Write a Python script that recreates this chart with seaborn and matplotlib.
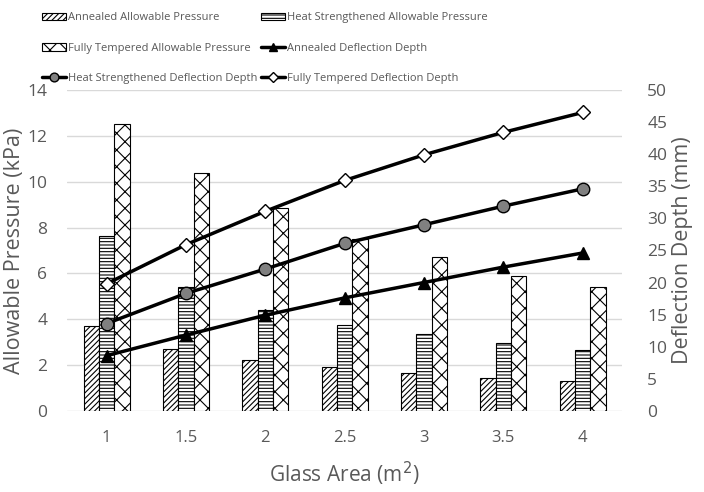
import numpy as np
import pandas as pd
import matplotlib
matplotlib.use("Agg")
import matplotlib.pyplot as plt
import seaborn as sns

# ===== data =====
areas = ["1", "1.5", "2", "2.5", "3", "3.5", "4"]

annealed_pressure = [3.7, 2.7, 2.2, 1.9, 1.65, 1.45, 1.3]
heat_pressure = [7.65, 5.4, 4.4, 3.75, 3.35, 2.95, 2.65]
tempered_pressure = [12.5, 10.4, 8.85, 7.5, 6.7, 5.9, 5.4]

annealed_deflection = [8.6, 11.8, 14.9, 17.6, 20.0, 22.4, 24.6]
heat_deflection = [13.6, 18.3, 22.1, 26.1, 29.0, 31.9, 34.6]
tempered_deflection = [19.8, 25.9, 31.1, 35.9, 39.9, 43.4, 46.5]

bar_names = ["Annealed Allowable Pressure", "Heat Strengthened Allowable Pressure",
             "Fully Tempered Allowable Pressure"]
line_names = ["Annealed Deflection Depth", "Heat Strengthened Deflection Depth",
              "Fully Tempered Deflection Depth"]

# ===== long form table for the bars =====
bars = pd.DataFrame({
    "area": areas * 3,
    "pressure": annealed_pressure + heat_pressure + tempered_pressure,
    "series": [n for n in bar_names for _ in areas],
})

sns.set_theme(style="white")
plt.rcParams["font.family"] = ["Open Sans", "DejaVu Sans"]
plt.rcParams["hatch.linewidth"] = 0.8
text_grey = "#595959"

fig = plt.figure(figsize=(7.04, 4.92), dpi=100)
ax = fig.add_axes([0.095, 0.165, 0.789, 0.652])

sns.barplot(data=bars, x="area", y="pressure", hue="series", order=areas,
            hue_order=bar_names, width=0.58, gap=0.0, ax=ax,
            palette=["white"] * 3, edgecolor="black", linewidth=0.8,
            legend=False)

hatches = ["//////", "-----", "xx"]
for container, h in zip(ax.containers, hatches):
    for patch in container:
        patch.set_hatch(h)

ax.set_ylim(0, 14)
ax.set_yticks(range(0, 15, 2))
ax.grid(axis="y", color="#d9d9d9", lw=1)
ax.set_axisbelow(True)
ax.set_xlabel("Glass Area (m$^2$)", fontsize=15, color=text_grey, labelpad=10)
ax.set_ylabel("Allowable Pressure (kPa)", fontsize=15.5, color=text_grey, labelpad=2)
ax.tick_params(axis="x", labelsize=12, colors=text_grey, length=0, pad=14)
ax.tick_params(axis="y", labelsize=12.5, colors=text_grey, length=0, pad=14)
for s in ax.spines.values():
    s.set_visible(False)

# ===== deflection lines on second axis =====
ax2 = ax.twinx()
styles = [("^", "black"), ("o", "#808080"), ("D", "white")]
positions = np.arange(len(areas))
for vals, name, (mk, fc) in zip([annealed_deflection, heat_deflection, tempered_deflection],
                                line_names, styles):
    sns.lineplot(x=positions, y=vals, ax=ax2, color="black", lw=2.5,
                 marker=mk, markersize=9 if mk != "D" else 7,
                 markerfacecolor=fc, markeredgecolor="black", markeredgewidth=1,
                 label=name, legend=False)

ax2.set_ylim(0, 50)
ax2.set_yticks(range(0, 51, 5))
ax2.set_ylabel("Deflection Depth (mm)", fontsize=15.5, color=text_grey, labelpad=3)
ax2.tick_params(axis="y", labelsize=12.5, colors=text_grey, length=0, pad=18)
ax2.grid(False)
for s in ax2.spines.values():
    s.set_visible(False)
ax.set_xlim(-0.5, len(areas) - 0.5)

# ===== legend (row-major like the original) =====
bar_handles = [c.patches[0] for c in ax.containers]
line_handles = ax2.get_lines()
col1 = [bar_handles[0], bar_handles[2], line_handles[1]]
col2 = [bar_handles[1], line_handles[0], line_handles[2]]
labels1 = [bar_names[0], bar_names[2], line_names[1]]
labels2 = [bar_names[1], line_names[0], line_names[2]]
fig.legend(col1 + col2, labels1 + labels2, ncol=2, loc="upper left",
           bbox_to_anchor=(0.045, 0.995), frameon=False, fontsize=8,
           labelcolor=text_grey, handlelength=2.2, handletextpad=0.15,
           columnspacing=0.35, labelspacing=1.75, markerscale=0.7)

fig.savefig("out.png", dpi=100)
